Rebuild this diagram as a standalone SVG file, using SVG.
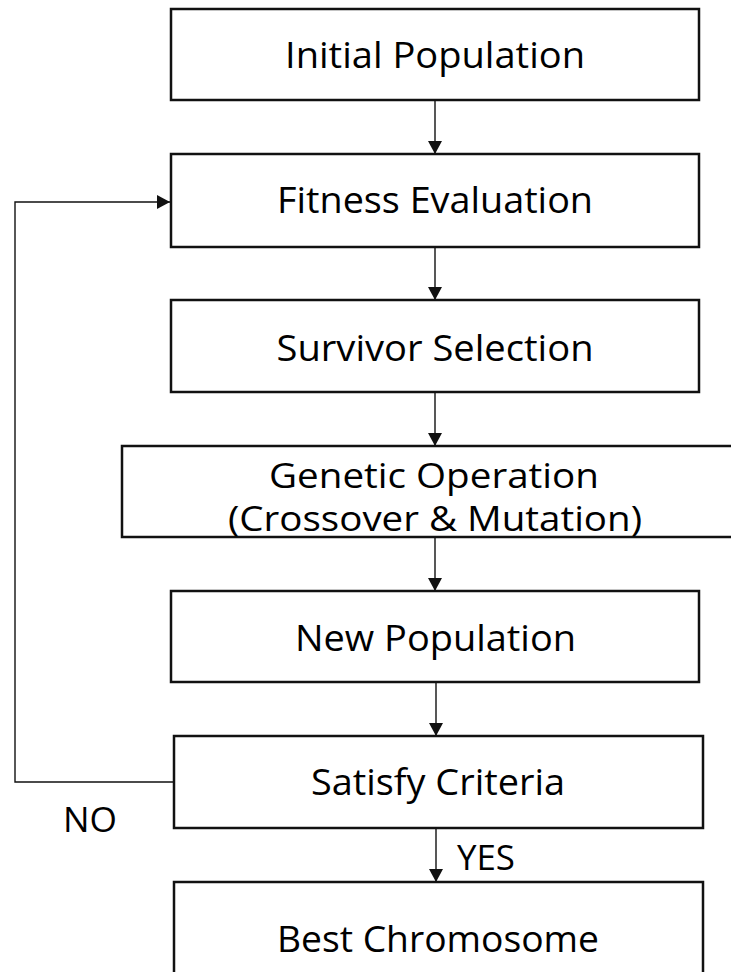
<svg xmlns="http://www.w3.org/2000/svg" width="731" height="972" viewBox="0 0 731 972">
<style>
.box{fill:#fff;stroke:#111;stroke-width:2.5}
.lbl{font-family:"Open Sans","Liberation Sans",sans-serif;font-size:37px;fill:#000;text-anchor:middle}
.two{font-size:34px}
.side{font-family:"Open Sans","Liberation Sans",sans-serif;font-size:35px;fill:#000}
.conn{fill:none;stroke:#111;stroke-width:1.4}
</style>
<defs>
<marker id="arr" markerUnits="userSpaceOnUse" markerWidth="14" markerHeight="14" refX="13" refY="7" orient="auto">
<path d="M0,0 L13,7 L0,14 Z" fill="#111"/>
</marker>
</defs>
<rect width="731" height="972" fill="#fff"/>
<g id="connectors">
<line class="conn" x1="435" y1="100" x2="435" y2="154" marker-end="url(#arr)"/>
<line class="conn" x1="435" y1="247" x2="435" y2="300" marker-end="url(#arr)"/>
<line class="conn" x1="435" y1="392" x2="435" y2="446" marker-end="url(#arr)"/>
<line class="conn" x1="435" y1="537" x2="435" y2="591" marker-end="url(#arr)"/>
<line class="conn" x1="436" y1="682" x2="436" y2="736" marker-end="url(#arr)"/>
<line class="conn" x1="436" y1="828" x2="436" y2="882" marker-end="url(#arr)"/>
<polyline class="conn" points="174,782 15,782 15,202 170,202" marker-end="url(#arr)"/>
</g>
<g id="n1"><rect class="box" x="171" y="9" width="528" height="91"/><text class="lbl" x="435" y="68" textLength="300" lengthAdjust="spacingAndGlyphs">Initial Population</text></g>
<g id="n2"><rect class="box" x="171" y="154" width="528" height="93"/><text class="lbl" x="435" y="213" textLength="316" lengthAdjust="spacingAndGlyphs">Fitness Evaluation</text></g>
<g id="n3"><rect class="box" x="171" y="300" width="528" height="92"/><text class="lbl" x="435" y="361" textLength="317" lengthAdjust="spacingAndGlyphs">Survivor Selection</text></g>
<g id="n4"><rect class="box" x="122" y="446" width="630" height="91"/><text class="lbl two" x="434" y="488" textLength="330" lengthAdjust="spacingAndGlyphs">Genetic Operation</text><text class="lbl two" x="435" y="531" textLength="414" lengthAdjust="spacingAndGlyphs">(Crossover &amp; Mutation)</text></g>
<g id="n5"><rect class="box" x="171" y="591" width="528" height="91"/><text class="lbl" x="435.5" y="651" textLength="281" lengthAdjust="spacingAndGlyphs">New Population</text></g>
<g id="n6"><rect class="box" x="174" y="736" width="529" height="92"/><text class="lbl" x="438" y="795" textLength="254" lengthAdjust="spacingAndGlyphs">Satisfy Criteria</text></g>
<g id="n7"><rect class="box" x="174" y="882" width="529" height="100"/><text class="lbl" x="438" y="952" textLength="322" lengthAdjust="spacingAndGlyphs">Best Chromosome</text></g>
<g id="labels">
<text class="side" x="63" y="832" textLength="54" lengthAdjust="spacingAndGlyphs">NO</text>
<text class="side" x="457" y="870" textLength="58" lengthAdjust="spacingAndGlyphs">YES</text>
</g>
</svg>
